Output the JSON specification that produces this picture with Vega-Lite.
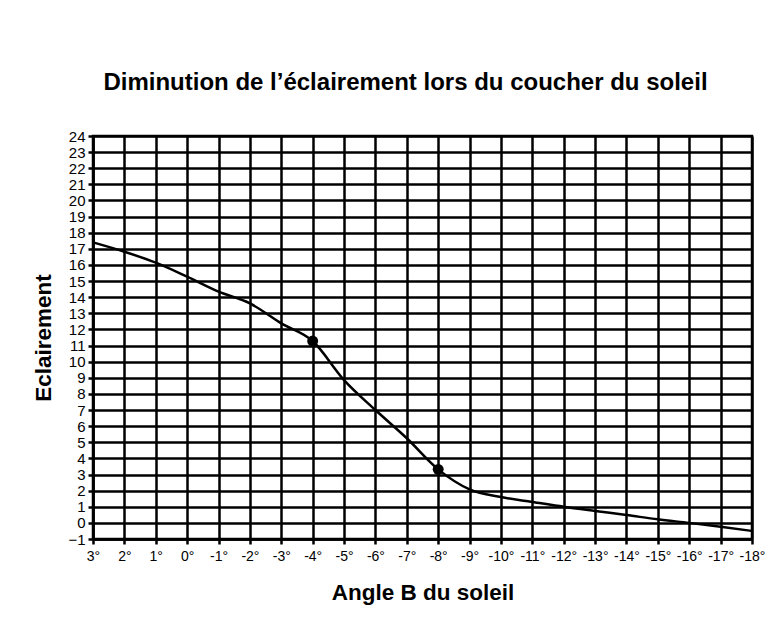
{
  "$schema": "https://vega.github.io/schema/vega-lite/v6.json",
  "width": 659,
  "height": 403,
  "autosize": {"type": "none"},
  "padding": {"left": 93, "top": 136, "right": 16, "bottom": 83},
  "background": "white",
  "title": {
    "text": "Diminution de l’éclairement lors du coucher du soleil",
    "font": "Liberation Sans",
    "fontSize": 24,
    "fontWeight": "bold",
    "color": "black",
    "anchor": "middle",
    "frame": "group",
    "dx": -17,
    "offset": 34
  },
  "datasets": {
    "curve": [
      {"angle": 3, "eclairement": 17.4},
      {"angle": 2, "eclairement": 16.82},
      {"angle": 1, "eclairement": 16.14},
      {"angle": 0, "eclairement": 15.27},
      {"angle": -1, "eclairement": 14.34},
      {"angle": -2, "eclairement": 13.62},
      {"angle": -3, "eclairement": 12.38},
      {"angle": -4, "eclairement": 11.28},
      {"angle": -5, "eclairement": 8.86},
      {"angle": -6, "eclairement": 7.0},
      {"angle": -7, "eclairement": 5.25},
      {"angle": -8, "eclairement": 3.32},
      {"angle": -9, "eclairement": 2.08},
      {"angle": -10, "eclairement": 1.6},
      {"angle": -11, "eclairement": 1.3},
      {"angle": -12, "eclairement": 1.0},
      {"angle": -13, "eclairement": 0.74},
      {"angle": -14, "eclairement": 0.49},
      {"angle": -15, "eclairement": 0.22},
      {"angle": -16, "eclairement": 0.0},
      {"angle": -17, "eclairement": -0.24},
      {"angle": -18, "eclairement": -0.5}
    ],
    "mesures": [
      {"angle": -4, "eclairement": 11.28},
      {"angle": -8, "eclairement": 3.32}
    ]
  },
  "encoding": {
    "x": {
      "field": "angle",
      "type": "quantitative",
      "scale": {"domain": [-18, 3], "reverse": true, "nice": false, "zero": false},
      "axis": {
        "title": "Angle B du soleil",
        "values": [3, 2, 1, 0, -1, -2, -3, -4, -5, -6, -7, -8, -9, -10, -11, -12, -13, -14, -15, -16, -17, -18],
        "labelExpr": "datum.value + '°'",
        "labelOverlap": false,
        "labelFlush": false,
        "labelBound": false,
        "labelPadding": 5,
        "titlePadding": 18
      }
    },
    "y": {
      "field": "eclairement",
      "type": "quantitative",
      "scale": {"domain": [-1, 24], "nice": false, "zero": false},
      "axis": {
        "title": "Eclairement",
        "values": [-1, 0, 1, 2, 3, 4, 5, 6, 7, 8, 9, 10, 11, 12, 13, 14, 15, 16, 17, 18, 19, 20, 21, 22, 23, 24],
        "labelOverlap": false,
        "labelFlush": false,
        "labelFontSize": 15,
        "labelPadding": 3,
        "titlePadding": 12
      }
    }
  },
  "layer": [
    {
      "data": {"name": "curve"},
      "mark": {"type": "line", "color": "black", "strokeWidth": 2.5, "interpolate": "monotone"}
    },
    {
      "data": {"name": "mesures"},
      "mark": {"type": "circle", "color": "black", "opacity": 1, "size": 120}
    }
  ],
  "config": {
    "view": {"stroke": "black", "strokeWidth": 2.5},
    "axis": {
      "domainColor": "black",
      "domainWidth": 2.5,
      "tickColor": "black",
      "tickWidth": 2.5,
      "tickSize": 5,
      "grid": true,
      "gridColor": "black",
      "gridWidth": 2.5,
      "gridOpacity": 1,
      "labelFont": "Liberation Sans",
      "labelFontSize": 14,
      "labelColor": "black",
      "titleFont": "Liberation Sans",
      "titleFontSize": 22.5,
      "titleFontWeight": "bold",
      "titleColor": "black"
    }
  }
}
